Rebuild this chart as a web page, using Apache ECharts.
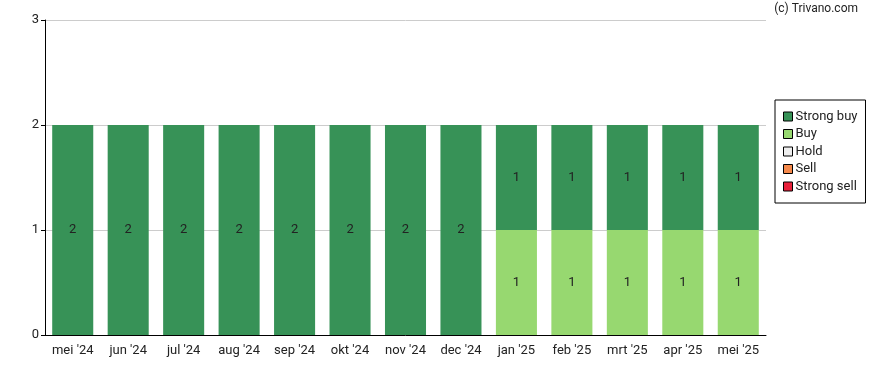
<!DOCTYPE html>
<html>
<head>
<meta charset="utf-8">
<script src="https://cdn.jsdelivr.net/npm/echarts@6/dist/echarts.min.js"></script>
<style>
html,body{margin:0;padding:0;background:#fff;}
#c{width:888px;height:370px;}
</style>
</head>
<body>
<div id="c"></div>
<script>
var categories = ["mei '24","jun '24","jul '24","aug '24","sep '24","okt '24","nov '24","dec '24","jan '25","feb '25","mrt '25","apr '25","mei '25"];
var strongBuy = [2,2,2,2,2,2,2,2,1,1,1,1,1];
var buy = [0,0,0,0,0,0,0,0,1,1,1,1,1];
var hold = [0,0,0,0,0,0,0,0,0,0,0,0,0];
var sell = [0,0,0,0,0,0,0,0,0,0,0,0,0];
var strongSell = [0,0,0,0,0,0,0,0,0,0,0,0,0];
var yTicks = [0,1,2,3];

var names = ['Strong buy','Buy','Hold','Sell','Strong sell'];
var colors = {'Strong buy':'#379257','Buy':'#97d870','Hold':'#eeeeee','Sell':'#f5894b','Strong sell':'#e8203a'};
var dataMap = {'Strong buy':strongBuy,'Buy':buy,'Hold':hold,'Sell':sell,'Strong sell':strongSell};
var stackOrder = ['Buy','Strong buy','Hold','Sell','Strong sell'];

var font = 'Roboto';
var series = stackOrder.map(function(n){
  return {
    name: n, type: 'bar', stack: 'a', barWidth: '74%',
    data: dataMap[n],
    itemStyle: {color: colors[n]},
    label: {show: true, position: 'inside', color: '#222', fontFamily: font, fontSize: 13,
      formatter: function(p){ return p.value ? String(p.value) : ''; }},
    emphasis: {disabled: true}
  };
});

var chart = echarts.init(document.getElementById('c'), null, {renderer:'canvas'});
chart.setOption({
  animation: false,
  textStyle: {fontFamily: font},
  graphic: [{type:'text', right: 30, top: 3, style:{text:'(c) Trivano.com', fill:'#222', font:'12px Roboto'}}],
  grid: {left: 45, right: 122, top: 20, bottom: 35},
  legend: {
    orient: 'vertical', left: 775, top: 100,
    data: names.map(function(n){ return {name:n, itemStyle:{color: colors[n], borderColor:'#000', borderWidth:1}}; }),
    itemWidth: 9, itemHeight: 9, itemGap: 4.5,
    icon: 'rect',
    borderColor: '#000', borderWidth: 1, padding: [10, 8, 10, 8],
    textStyle: {fontFamily: font, fontSize: 13, color:'#222', padding:[0,0,0,-2]},
    selectedMode: false
  },
  xAxis: {
    type: 'category', data: categories,
    axisLine: {lineStyle:{color:'#000'}},
    axisTick: {alignWithLabel: true, length: 5, lineStyle:{color:'#000'}},
    axisLabel: {color:'#222', fontSize: 13, fontFamily: font, margin: 9}
  },
  yAxis: {
    type: 'value', min: yTicks[0], max: yTicks[yTicks.length-1], interval: 1,
    axisLine: {show: true, lineStyle:{color:'#000'}},
    axisTick: {show: true, length: 4, lineStyle:{color:'#000'}},
    axisLabel: {color:'#222', fontSize: 13, fontFamily: font, margin: 6},
    splitLine: {lineStyle:{color:'#cccccc'}}
  },
  series: series
});
</script>
</body>
</html>
